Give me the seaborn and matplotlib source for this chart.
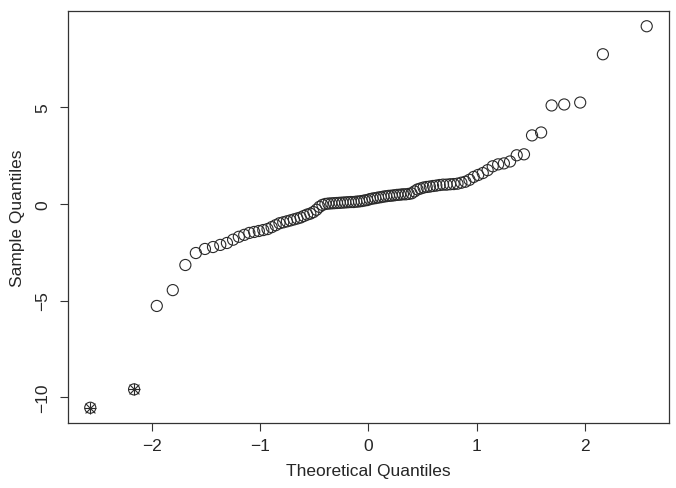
import statistics
import matplotlib
matplotlib.use("Agg")
import matplotlib.pyplot as plt
import pandas as pd
import seaborn as sns

# sorted sample values (100 points)
sample = [
    -10.55, -9.6, -5.28, -4.46, -3.16, -2.54, -2.33, -2.23, -2.12, -2.02,
    -1.85, -1.7, -1.6, -1.5, -1.45, -1.4, -1.35, -1.3, -1.2, -1.1,
    -1.0, -0.95, -0.9, -0.85, -0.8, -0.75, -0.7, -0.62, -0.55, -0.5,
    -0.42, -0.3, -0.15, -0.05, 0.0, 0.02, 0.03, 0.04, 0.05, 0.06,
    0.07, 0.08, 0.09, 0.1, 0.1, 0.12, 0.13, 0.15, 0.18, 0.2,
    0.25, 0.28, 0.3, 0.33, 0.35, 0.38, 0.4, 0.42, 0.43, 0.45,
    0.47, 0.48, 0.5, 0.5, 0.52, 0.55, 0.65, 0.75, 0.8, 0.85,
    0.88, 0.9, 0.93, 0.95, 0.98, 1.0, 1.0, 1.02, 1.03, 1.05,
    1.1, 1.15, 1.25, 1.4, 1.5, 1.6, 1.75, 1.95, 2.05, 2.1,
    2.2, 2.52, 2.57, 3.55, 3.7, 5.1, 5.15, 5.25, 7.75, 9.2,
]
# indices of the flagged points (drawn with an asterisk)
flagged = [0, 1]

# theoretical normal quantiles, as qqnorm does (ppoints with a = 0.5)
n = len(sample)
nd = statistics.NormalDist()
theo = [nd.inv_cdf((i + 0.5) / n) for i in range(n)]
df = pd.DataFrame({"theo": theo, "sample": sample})

sns.set_style("white")
plt.rcParams["font.family"] = ["Liberation Sans", "DejaVu Sans"]

fig = plt.figure(figsize=(6.76, 4.89), dpi=100)
ax = fig.add_axes([0.1006, 0.1329, 0.889, 0.8426])

sns.scatterplot(data=df, x="theo", y="sample", ax=ax, marker="o", s=64,
                facecolors="none", edgecolor="#2a2a2a", linewidth=0.8)

fl = df.iloc[flagged]
sns.scatterplot(data=fl, x="theo", y="sample", ax=ax, marker="+", s=85,
                color="#2a2a2a", linewidth=0.8)
sns.scatterplot(data=fl, x="theo", y="sample", ax=ax, marker="x", s=50,
                color="#2a2a2a", linewidth=0.8)

# R style 4% padding
xr = max(theo) - min(theo)
yr = max(sample) - min(sample)
ax.set_xlim(min(theo) - 0.04 * xr, max(theo) + 0.04 * xr)
ax.set_ylim(min(sample) - 0.04 * yr, max(sample) + 0.04 * yr)

ax.set_xticks([-2, -1, 0, 1, 2])
ax.set_yticks([-10, -5, 0, 5])
ax.set_xticklabels(["\u22122", "\u22121", "0", "1", "2"])
ax.set_yticklabels(["\u221210", "\u22125", "0", "5"], rotation=90, va="center")
ax.tick_params(direction="out", length=6, width=0.8, color="#333333",
               labelsize=12.5, pad=5, bottom=True, left=True)
ax.tick_params(axis="y", pad=7)

for sp in ax.spines.values():
    sp.set_color("#333333")
    sp.set_linewidth(0.9)

ax.set_xlabel("Theoretical Quantiles", fontsize=12.5, labelpad=7)
ax.set_ylabel("Sample Quantiles", fontsize=12.5, labelpad=7)

fig.savefig("out.png", dpi=100)
